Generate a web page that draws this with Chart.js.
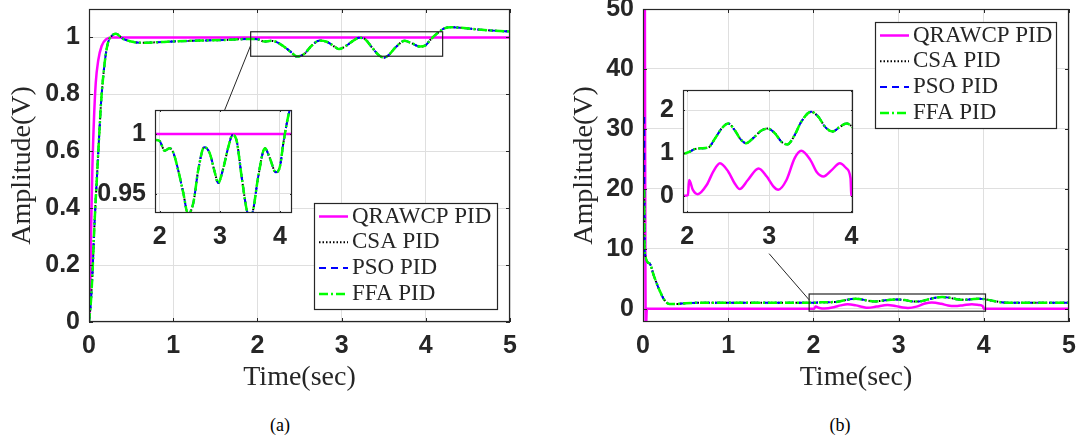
<!DOCTYPE html>
<html>
<head>
<meta charset="utf-8">
<script src="https://cdn.jsdelivr.net/npm/chart.js@4.4.1/dist/chart.umd.min.js"></script>
<style>
  html, body { margin: 0; padding: 0; background: #fff; overflow: hidden; }
  body { width: 1085px; height: 444px; position: relative; }
  canvas { position: absolute; }
  .caption { position: absolute; top: 415px; width: 60px; line-height: 20px; text-align: center;
             font: 18px "Liberation Serif", "Times New Roman", serif; color: #000; }
</style>
</head>
<body>
<canvas id="mainA" width="540" height="400" style="left:0;top:0"></canvas>
<canvas id="insetA" width="205" height="150" style="left:95px;top:105px"></canvas>
<canvas id="mainB" width="530" height="400" style="left:554px;top:0"></canvas>
<canvas id="insetB" width="240" height="170" style="left:623px;top:85px"></canvas>
<div class="caption" style="left:250px">(a)</div>
<div class="caption" style="left:810px">(b)</div>

<script>
// 1. Dados
const labels = ['QRAWCP PID', 'CSA PID', 'PSO PID', 'FFA PID'];

const timeTicks = [0, 1, 2, 3, 4, 5];
const ampTicksA = [0, 0.2, 0.4, 0.6, 0.8, 1];
const ampTicksB = [0, 10, 20, 30, 40, 50];
const insetTimeTicks = [2, 3, 4];
const insetAmpTicksA = [0.95, 1];
const insetAmpTicksB = [0, 1, 2];

// limites dos eixos (tambem usados para o retangulo de zoom)
const insetRangeA = { x: [1.92, 4.2], y: [0.934, 1.02] };
const insetRangeB = { x: [1.95, 4.02], y: [-0.4, 2.47] };

// (a) resposta ao degrau  [tempo, amplitude]
const qrawcpA = [[0, 0], [0.012, 0.08], [0.024, 0.31], [0.04, 0.54], [0.06, 0.72], [0.08, 0.84],
  [0.11, 0.92], [0.15, 0.97], [0.21, 0.995], [0.27, 1], [5, 1]];

const csaA = [[0, 0], [0.024, 0.077], [0.044, 0.19], [0.06, 0.31], [0.08, 0.43], [0.1, 0.54],
  [0.12, 0.65], [0.143, 0.77], [0.18, 0.895], [0.22, 0.975], [0.27, 1.006], [0.32, 1.013],
  [0.4, 0.996], [0.5, 0.986], [0.62, 0.981], [0.8, 0.983], [1.0, 0.986], [1.3, 0.989],
  [1.6, 0.991], [1.93, 0.995], [2.0, 0.994], [2.08, 0.986], [2.165, 0.988], [2.22, 0.985],
  [2.305, 0.970], [2.39, 0.951], [2.47, 0.933], [2.56, 0.943], [2.64, 0.970], [2.74, 0.989],
  [2.83, 0.984], [2.92, 0.967], [2.97, 0.959], [3.05, 0.970], [3.14, 0.989], [3.21, 0.999],
  [3.28, 0.994], [3.36, 0.965], [3.445, 0.937], [3.5, 0.929], [3.555, 0.937], [3.64, 0.965],
  [3.75, 0.988], [3.83, 0.98], [3.93, 0.968], [4.0, 0.973], [4.055, 0.992], [4.11, 1.008],
  [4.16, 1.02], [4.22, 1.032], [4.3, 1.036], [4.45, 1.033], [4.62, 1.028], [4.8, 1.024], [5.0, 1.021]];
const psoA = csaA;   // as tres curvas se sobrepoem
const ffaA = csaA;

// (b) sinal de controle
const qrawcpB = [[0, 300], [0.033, -4], [0.045, 0], [1.97, 0], [2.01, 0.02], [2.025, 0.37],
  [2.07, 0.14], [2.13, 0.04], [2.24, 0.26], [2.32, 0.57], [2.40, 0.76], [2.5, 0.57], [2.58, 0.29],
  [2.64, 0.16], [2.74, 0.37], [2.87, 0.64], [2.97, 0.45], [3.05, 0.22], [3.11, 0.14], [3.21, 0.37],
  [3.31, 0.88], [3.39, 1.05], [3.5, 0.84], [3.58, 0.55], [3.66, 0.45], [3.76, 0.60], [3.86, 0.76],
  [3.94, 0.64], [3.99, 0.41], [4.0, 0.02], [4.02, 0], [5, 0]];

const tailB = [[0.018, 9.8], [0.074, 7.6], [0.13, 5.4], [0.19, 3.2], [0.25, 1.5], [0.31, 0.8],
  [0.39, 0.8], [0.5, 0.94], [0.7, 1.0], [1.97, 0.99], [2.03, 1.03], [2.09, 1.09], [2.17, 1.11],
  [2.26, 1.13], [2.34, 1.34], [2.42, 1.57], [2.5, 1.69], [2.58, 1.53], [2.66, 1.30], [2.72, 1.23],
  [2.80, 1.34], [2.91, 1.53], [2.98, 1.57], [3.07, 1.46], [3.15, 1.26], [3.22, 1.20], [3.31, 1.42],
  [3.39, 1.73], [3.51, 1.96], [3.60, 1.84], [3.68, 1.61], [3.77, 1.50], [3.86, 1.61], [3.94, 1.69],
  [4.02, 1.59], [4.1, 1.35], [4.2, 1.1], [4.3, 1.0], [5, 1.0]];
const csaB = [[0.014, 20], ...tailB];
const psoB = [[0.014, 32], ...tailB];
const ffaB = [[0.014, 20], ...tailB];

// 2. Estilos
const axisColor = '#262626';
const gridColor = '#dfdfdf';
const tickFont = { family: '"Liberation Sans", Arial, sans-serif', size: 25, weight: 'bold', lineHeight: 1.2 };
const titleFont = { family: '"Liberation Serif", "Times New Roman", serif', size: 28, lineHeight: 1.2 };
const legendFont = '23px "Liberation Serif", "Times New Roman", serif';

const styles = [
  { color: '#ff00ff', width: 2.5, dash: [] },
  { color: '#000000', width: 2, dash: [1.5, 2] },
  { color: '#0000ff', width: 2, dash: [7, 5] },
  { color: '#00ff00', width: 2.5, dash: [9, 3, 2, 3] }
];

function makeDatasets(series) {
  return series.map((pts, i) => ({
    label: labels[i],
    data: pts.map(p => ({ x: p[0], y: p[1] })),
    borderColor: styles[i].color,
    borderWidth: styles[i].width,
    borderDash: styles[i].dash,
    pointRadius: 0,
    fill: false,
    cubicInterpolationMode: 'monotone',
    order: 3 - i
  }));
}

function scaleOpts(range, tickVals, size, horizontal, title) {
  return {
    type: 'linear',
    min: range[0],
    max: range[1],
    afterBuildTicks: s => { s.ticks = tickVals.map(v => ({ value: v })); },
    afterFit: s => {
      if (horizontal) s.height = size; else s.width = size;
      s.paddingTop = s.paddingBottom = s.paddingLeft = s.paddingRight = 0;
    },
    grid: { color: gridColor, lineWidth: 1, drawTicks: false },
    border: { display: false },
    ticks: { padding: 9, autoSkip: false, maxRotation: 0, minRotation: 0,
             color: axisColor, font: tickFont, callback: v => String(v) },
    title: title
      ? { display: true, text: title.text, color: axisColor, font: titleFont, padding: title.pad }
      : { display: false }
  };
}

// moldura, marcas internas, retangulo de zoom e legenda
function framePlugin(cfg) {
  return {
    id: 'frame',
    beforeDraw(chart) {
      const { ctx, chartArea: a } = chart;
      ctx.save();
      ctx.fillStyle = '#ffffff';
      ctx.fillRect(a.left, a.top, a.right - a.left, a.bottom - a.top);
      ctx.restore();
    },
    afterDraw(chart) {
      const { ctx, chartArea: a } = chart;
      const x = chart.scales.x, y = chart.scales.y;
      ctx.save();
      ctx.strokeStyle = axisColor;
      ctx.setLineDash([]);
      ctx.lineWidth = 1;
      ctx.beginPath();
      x.ticks.forEach(t => {
        const px = Math.round(x.getPixelForValue(t.value)) + 0.5;
        ctx.moveTo(px, a.bottom); ctx.lineTo(px, a.bottom - cfg.tick);
        ctx.moveTo(px, a.top); ctx.lineTo(px, a.top + cfg.tick);
      });
      y.ticks.forEach(t => {
        const py = Math.round(y.getPixelForValue(t.value)) + 0.5;
        ctx.moveTo(a.left, py); ctx.lineTo(a.left + cfg.tick, py);
        ctx.moveTo(a.right, py); ctx.lineTo(a.right - cfg.tick, py);
      });
      ctx.stroke();
      ctx.lineWidth = 1.2;
      ctx.strokeRect(a.left + 0.5, a.top + 0.5, a.right - a.left - 1, a.bottom - a.top - 1);

      if (cfg.zoom) {
        const z = cfg.zoom;
        const l = x.getPixelForValue(z.x[0]), r = x.getPixelForValue(z.x[1]);
        const t = y.getPixelForValue(z.y[1]), b = y.getPixelForValue(z.y[0]);
        ctx.strokeRect(l, t, r - l, b - t);
        ctx.lineWidth = 1;
        ctx.beginPath();
        ctx.moveTo(x.getPixelForValue(z.from[0]), y.getPixelForValue(z.from[1]));
        ctx.lineTo(x.getPixelForValue(z.to[0]), y.getPixelForValue(z.to[1]));
        ctx.stroke();
      }

      if (cfg.legend) {
        const L = cfg.legend;
        ctx.fillStyle = '#ffffff';
        ctx.fillRect(L.x, L.y, L.w, L.h);
        ctx.lineWidth = 1.2;
        ctx.strokeRect(L.x + 0.5, L.y + 0.5, L.w, L.h);
        ctx.font = legendFont;
        ctx.textBaseline = 'middle';
        chart.data.datasets.forEach((ds, i) => {
          const yy = L.y + 13.5 + i * 25.8;
          ctx.beginPath();
          ctx.strokeStyle = ds.borderColor;
          ctx.lineWidth = ds.borderWidth;
          ctx.setLineDash(ds.borderDash);
          ctx.moveTo(L.x + 5, yy);
          ctx.lineTo(L.x + 34, yy);
          ctx.stroke();
          ctx.setLineDash([]);
          ctx.fillStyle = axisColor;
          ctx.fillText(ds.label, L.x + 38, yy);
        });
      }
      ctx.restore();
    }
  };
}

function buildChart(id, series, o) {
  return new Chart(document.getElementById(id), {
    type: 'line',
    data: { datasets: makeDatasets(series) },
    options: {
      responsive: false,
      animation: false,
      events: [],
      layout: { padding: o.pad },
      plugins: { legend: { display: false }, tooltip: { enabled: false } },
      scales: {
        x: scaleOpts(o.xRange, o.xTicks, o.xSize, true, o.xTitle),
        y: scaleOpts(o.yRange, o.yTicks, o.ySize, false, o.yTitle)
      }
    },
    plugins: [framePlugin(o)]
  });
}

// 3. Graficos
buildChart('mainA', [qrawcpA, csaA, psoA, ffaA], {
  pad: { left: 0, right: 30, top: 9, bottom: 0 },
  xRange: [0, 5], xTicks: timeTicks, xSize: 78,
  yRange: [0, 1.1], yTicks: ampTicksA, ySize: 89,
  xTitle: { text: 'Time(sec)', pad: { top: 0, bottom: 6 } },
  yTitle: { text: 'Amplitude(V)', pad: { top: 6, bottom: 0 } },
  tick: 4,
  zoom: { x: insetRangeA.x, y: insetRangeA.y, from: [1.92, 0.972], to: [1.61, 0.744] },
  legend: { x: 314, y: 203, w: 183, h: 106 }
});

buildChart('insetA', [qrawcpA, csaA, psoA, ffaA], {
  pad: { left: 0, right: 8, top: 5, bottom: 0 },
  xRange: insetRangeA.x, xTicks: insetTimeTicks, xSize: 42,
  yRange: insetRangeA.y, yTicks: insetAmpTicksA, ySize: 60,
  tick: 2
});

buildChart('mainB', [qrawcpB, csaB, psoB, ffaB], {
  pad: { left: 0, right: 15, top: 9, bottom: 0 },
  xRange: [0, 5], xTicks: timeTicks, xSize: 78,
  yRange: [-2.2, 50], yTicks: ampTicksB, ySize: 89,
  xTitle: { text: 'Time(sec)', pad: { top: 0, bottom: 6 } },
  yTitle: { text: 'Amplitude(V)', pad: { top: 14, bottom: 0 } },
  tick: 4,
  zoom: { x: insetRangeB.x, y: insetRangeB.y, from: [1.95, 1.5], to: [1.48, 9.2] },
  legend: { x: 321, y: 22, w: 181, h: 106 }
});

buildChart('insetB', [qrawcpB, csaB, psoB, ffaB], {
  pad: { left: 0, right: 10, top: 5, bottom: 0 },
  xRange: insetRangeB.x, xTicks: insetTimeTicks, xSize: 42,
  yRange: insetRangeB.y, yTicks: insetAmpTicksB, ySize: 60,
  tick: 2
});
</script>
</body>
</html>
